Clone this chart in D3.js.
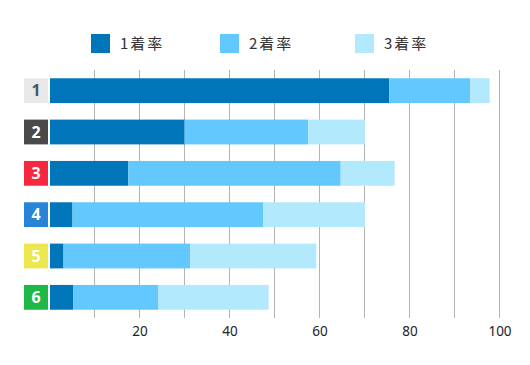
<!DOCTYPE html>
<html><head><meta charset="utf-8">
<script src="https://cdn.jsdelivr.net/npm/d3@7"></script>
<style>body{margin:0;background:#fff}svg{display:block;font-family:"Noto Sans CJK JP","Noto Sans",sans-serif}</style>
</head><body><svg id="c" width="530" height="365"></svg>
<script>
const categories = ["1","2","3","4","5","6"];
const series = ["1着率","2着率","3着率"];
const first  = [75.4, 29.9, 17.4, 5.0, 3.0, 5.2];
const second = [18.0, 27.5, 47.2, 42.4, 28.2, 18.9];
const third  = [4.3, 12.6, 12.0, 22.6, 28.0, 24.5];
const gridTicks = [10,20,30,40,50,60,70,80,90,100];
const tickLabels = [20,40,60,80,100];
const seriesColors = ["#0075b9","#62c8fe","#b3e9fd"];
const laneBg = ["#e9e9e9","#4a4a4a","#f5283f","#2784d6","#ece64f","#1db845"];
const laneFg = ["#4a5866","#ffffff","#ffffff","#ffffff","#ffffff","#ffffff"];

const svg = d3.select("#c");
const x = d3.scaleLinear().domain([0,100]).range([49.5,499.5]);
const y = d3.scaleBand().domain(categories).range([70,318]).paddingInner(0.4).paddingOuter(0.2);

// gridlines
svg.append("g").selectAll("line").data(gridTicks).join("line")
  .attr("x1",d=>Math.round(x(d))-0.5).attr("x2",d=>Math.round(x(d))-0.5)
  .attr("y1",70).attr("y2",318).attr("stroke","#b3b3b3").attr("stroke-width",1);

// axis labels
const ax = d3.axisBottom(x).tickValues(tickLabels).tickSize(0).tickPadding(0).tickFormat(d3.format("d"));
const axg = svg.append("g").attr("transform","translate(0,326)").call(ax);
axg.select(".domain").remove();
axg.selectAll("text").attr("font-size",13.5).attr("fill","#222").attr("font-family","'Noto Sans',sans-serif");

// stacked bars
const rows = categories.map((c,i)=>({cat:c, v:[first[i],second[i],third[i]]}));
const stack = d3.stack().keys([0,1,2]).value((d,k)=>d.v[k]);
const stacked = stack(rows);
svg.append("g").selectAll("g").data(stacked).join("g")
  .attr("fill",(d,i)=>seriesColors[i])
  .selectAll("rect").data(d=>d).join("rect")
  .attr("x",d=>x(d[0])+0.5).attr("width",d=>Math.max(0,x(d[1])-x(d[0])))
  .attr("y",d=>y(d.data.cat)).attr("height",y.bandwidth());

// lane labels
const lg = svg.append("g");
categories.forEach((c,i)=>{
  lg.append("rect").attr("x",24).attr("width",24).attr("y",y(c)).attr("height",y.bandwidth()).attr("fill",laneBg[i]);
  lg.append("text").attr("x",36).attr("y",y(c)+y.bandwidth()/2).attr("dy","0.36em")
    .attr("text-anchor","middle").attr("font-size",16).attr("font-weight","bold")
    .attr("font-family","'Noto Sans',sans-serif").attr("fill",laneFg[i]).text(c);
});

// legend
const legX = [91,220,355];
const leg = svg.append("g");
series.forEach((s,i)=>{
  leg.append("rect").attr("x",legX[i]).attr("y",34).attr("width",19).attr("height",19).attr("fill",seriesColors[i]);
  leg.append("text").attr("x",legX[i]+29).attr("y",43.5).attr("dy","0.36em")
    .attr("font-size",15).attr("letter-spacing",2).attr("fill","#333").text(s);
});
</script></body></html>
